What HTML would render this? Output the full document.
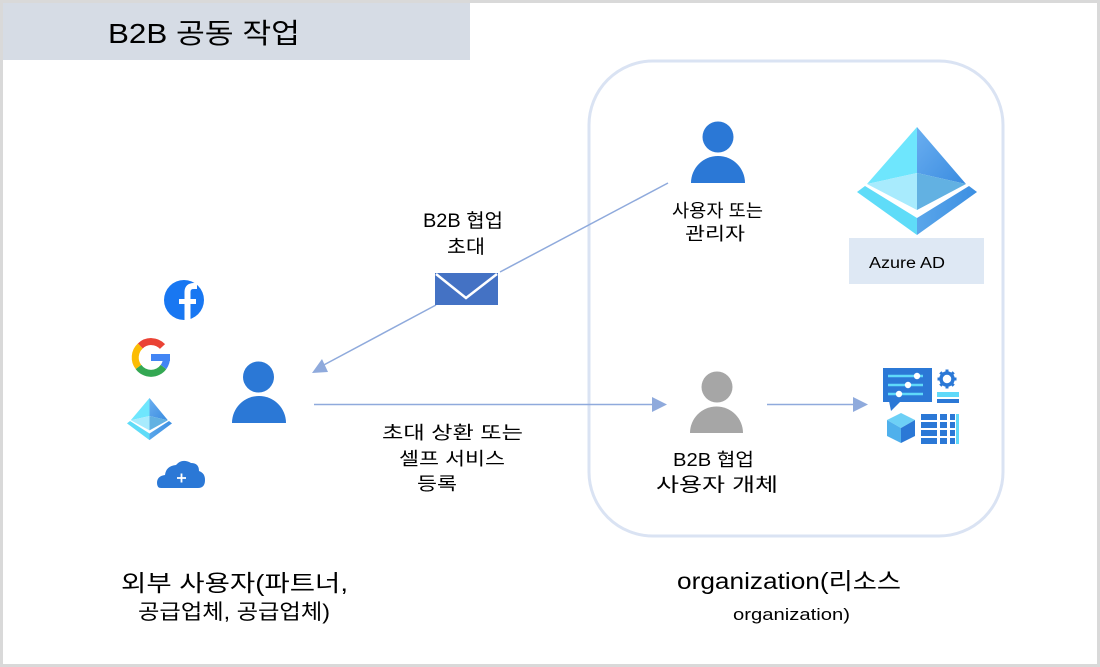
<!DOCTYPE html>
<html><head><meta charset="utf-8"><style>
html,body{margin:0;padding:0;background:#fff;}
svg{display:block;}
text{font-family:"Liberation Sans","Noto Sans CJK KR",sans-serif;fill:#000;}
</style></head><body>
<svg width="1100" height="667" viewBox="0 0 1100 667" xmlns="http://www.w3.org/2000/svg">
<defs>
<linearGradient id="gR" x1="0" y1="0" x2="1" y2="1"><stop offset="0" stop-color="#6aaef0"/><stop offset="1" stop-color="#3a8ce0"/></linearGradient>
<linearGradient id="gBR" x1="0" y1="0" x2="1" y2="0"><stop offset="0" stop-color="#5aa6ea"/><stop offset="1" stop-color="#3c8fe2"/></linearGradient>
<g id="aad">
  <polygon points="917,127 867,184 917,173" fill="#6ee6fd"/>
  <polygon points="917,127 917,173 966,184" fill="url(#gR)"/>
  <polygon points="867,184 917,173 917,210" fill="#a8ebfd"/>
  <polygon points="917,173 966,184 917,210" fill="#62b1e2"/>
  <polygon points="857,192 865,186 917,218 917,235" fill="#5fdcf8"/>
  <polygon points="977,192 969,186 917,218 917,235" fill="url(#gBR)"/>
</g>
</defs>
<rect x="0" y="0" width="1100" height="667" fill="#fff"/>
<!-- frame -->
<rect x="0" y="0" width="1100" height="3" fill="#d9d9d9"/>
<rect x="0" y="0" width="3" height="667" fill="#d9d9d9"/>
<rect x="1097" y="0" width="3" height="667" fill="#d9d9d9"/>
<rect x="0" y="664" width="1100" height="3" fill="#d9d9d9"/>
<!-- header -->
<rect x="3" y="3" width="467" height="57" fill="#d6dce5"/>
<text x="108" y="43" font-size="28" textLength="192" lengthAdjust="spacingAndGlyphs">B2B 공동 작업</text>

<!-- org container -->
<rect x="589" y="61" width="414" height="475" rx="64" ry="64" fill="none" stroke="#dae3f3" stroke-width="3"/>

<!-- connectors -->
<line x1="668" y1="183" x2="500" y2="272" stroke="#8faadc" stroke-width="1.5"/>
<line x1="436" y1="305" x2="320" y2="367" stroke="#8faadc" stroke-width="1.5"/>
<polygon points="312,373 328,372 322,359" fill="#8faadc"/>
<line x1="314" y1="404.5" x2="654" y2="404.5" stroke="#8faadc" stroke-width="1.5"/>
<polygon points="652,397 667,404.5 652,412" fill="#8faadc"/>
<line x1="767" y1="404.5" x2="855" y2="404.5" stroke="#8faadc" stroke-width="1.5"/>
<polygon points="853,397 868,404.5 853,412" fill="#8faadc"/>

<!-- envelope -->
<rect x="435" y="273" width="63" height="32" fill="#4472c4"/>
<polyline points="436,274 466,298 497,274" fill="none" stroke="#fff" stroke-width="2.5"/>
<text x="423" y="227" font-size="19" textLength="80" lengthAdjust="spacingAndGlyphs">B2B 협업</text>
<text x="447" y="253" font-size="19" textLength="38" lengthAdjust="spacingAndGlyphs">초대</text>

<!-- admin user -->
<circle cx="718" cy="137" r="15.5" fill="#2b78d6"/>
<path d="M691,183 A27,27 0 0 1 745,183 Z" fill="#2b78d6"/>
<text x="672" y="217" font-size="18" textLength="91" lengthAdjust="spacingAndGlyphs">사용자 또는</text>
<text x="685" y="240" font-size="18" textLength="60" lengthAdjust="spacingAndGlyphs">관리자</text>

<!-- Azure AD -->
<use href="#aad"/>
<rect x="849" y="238" width="135" height="46" fill="#dee8f4"/>
<text x="869" y="268" font-size="15.5" textLength="76" lengthAdjust="spacingAndGlyphs">Azure AD</text>

<!-- external user -->
<circle cx="258.5" cy="377" r="15.5" fill="#2b78d6"/>
<path d="M232,423 A27,27 0 0 1 286,423 Z" fill="#2b78d6"/>

<!-- facebook -->
<circle cx="184" cy="300" r="20" fill="#1877f2"/>
<path d="M187.5,320 V292 Q187.5,286 194,286 H197" fill="none" stroke="#fff" stroke-width="6"/>
<line x1="179" y1="301.5" x2="196" y2="301.5" stroke="#fff" stroke-width="5"/>

<!-- google -->
<g fill="none" stroke-width="7">
  <path d="M140.3,346 A15.5,15.5 0 0 1 162.5,346.5" stroke="#ea4335"/>
  <path d="M140.3,346 A15.5,15.5 0 0 0 138.5,367" stroke="#fbbc05"/>
  <path d="M138.5,367 A15.5,15.5 0 0 0 163.5,367" stroke="#34a853"/>
  <path d="M163.5,367 A15.5,15.5 0 0 0 166.5,357.5" stroke="#4285f4"/>
</g>
<rect x="151" y="354" width="19" height="7" fill="#4285f4"/>

<!-- small azure -->
<use href="#aad" transform="translate(127,398) scale(0.375,0.39) translate(-857,-127)"/>

<!-- cloud -->
<path d="M161,488 Q157,488 157,483 Q157,476 165,475 Q166,466 176,465 Q182,458 191,463 Q199,463 199,471 Q205,473 205,480 Q205,488 198,488 Z" fill="#2b78d6"/>
<line x1="177" y1="478" x2="186" y2="478" stroke="#fff" stroke-width="1.8"/>
<line x1="181.5" y1="473.5" x2="181.5" y2="482.5" stroke="#fff" stroke-width="1.8"/>

<!-- guest user (gray) -->
<circle cx="717" cy="387" r="15.5" fill="#a6a6a6"/>
<path d="M690,433 A26.5,26.5 0 0 1 743,433 Z" fill="#a6a6a6"/>
<text x="673" y="466" font-size="18" textLength="81" lengthAdjust="spacingAndGlyphs">B2B 협업</text>
<text x="656" y="491" font-size="19" textLength="122" lengthAdjust="spacingAndGlyphs">사용자 개체</text>

<!-- redeem text -->
<text x="382" y="439" font-size="18" textLength="141" lengthAdjust="spacingAndGlyphs">초대 상환 또는</text>
<text x="399" y="465" font-size="18" textLength="106" lengthAdjust="spacingAndGlyphs">셀프 서비스</text>
<text x="417" y="490" font-size="18" textLength="40" lengthAdjust="spacingAndGlyphs">등록</text>

<!-- resource icon -->
<rect x="883" y="368" width="49" height="34" fill="#2b78d6"/>
<polygon points="889,401 901,401 891,411" fill="#2b78d6"/>
<g stroke="#5fd9f9" stroke-width="2.5">
  <line x1="888" y1="376" x2="923" y2="376"/>
  <line x1="888" y1="385" x2="923" y2="385"/>
  <line x1="888" y1="394" x2="923" y2="394"/>
</g>
<g fill="#fff">
  <circle cx="917" cy="376" r="3.2"/>
  <circle cx="908" cy="385" r="3.2"/>
  <circle cx="899" cy="394" r="3.2"/>
</g>
<g stroke="#2b78d6" fill="none">
  <circle cx="947" cy="379" r="6" stroke-width="3.5"/>
  <g stroke-width="3">
    <line x1="947" y1="369.5" x2="947" y2="372"/>
    <line x1="947" y1="386" x2="947" y2="388.5"/>
    <line x1="937.5" y1="379" x2="940" y2="379"/>
    <line x1="954" y1="379" x2="956.5" y2="379"/>
    <line x1="940.3" y1="372.3" x2="942" y2="374"/>
    <line x1="952" y1="384" x2="953.7" y2="385.7"/>
    <line x1="953.7" y1="372.3" x2="952" y2="374"/>
    <line x1="942" y1="384" x2="940.3" y2="385.7"/>
  </g>
</g>
<rect x="937" y="392" width="22" height="5" fill="#5fd9f9"/>
<rect x="937" y="399" width="22" height="4" fill="#2b78d6"/>
<polygon points="901,413 915,420 901,428 887,420" fill="#6dd0f6"/>
<polygon points="887,420 901,428 901,443 887,436" fill="#4fb0ec"/>
<polygon points="915,420 901,428 901,443 915,436" fill="#2b78d6"/>
<g fill="#2b78d6">
  <rect x="921" y="414" width="16" height="6"/>
  <rect x="921" y="422" width="16" height="6"/>
  <rect x="921" y="430" width="16" height="6"/>
  <rect x="921" y="438" width="16" height="6"/>
  <rect x="940" y="414" width="7" height="6"/>
  <rect x="940" y="422" width="7" height="6"/>
  <rect x="940" y="430" width="7" height="6"/>
  <rect x="940" y="438" width="7" height="6"/>
  <rect x="950" y="414" width="5" height="6"/>
  <rect x="950" y="422" width="5" height="6"/>
  <rect x="950" y="430" width="5" height="6"/>
  <rect x="950" y="438" width="5" height="6"/>
</g>
<rect x="956" y="414" width="3" height="30" fill="#5fd9f9"/>

<!-- bottom labels -->
<text x="121" y="591" font-size="23" textLength="227" lengthAdjust="spacingAndGlyphs">외부 사용자(파트너,</text>
<text x="138" y="619" font-size="21" textLength="192" lengthAdjust="spacingAndGlyphs">공급업체, 공급업체)</text>
<text x="677" y="589" font-size="23" textLength="224" lengthAdjust="spacingAndGlyphs">organization(리소스</text>
<text x="733" y="620" font-size="17" textLength="117" lengthAdjust="spacingAndGlyphs">organization)</text>
</svg>
</body></html>
